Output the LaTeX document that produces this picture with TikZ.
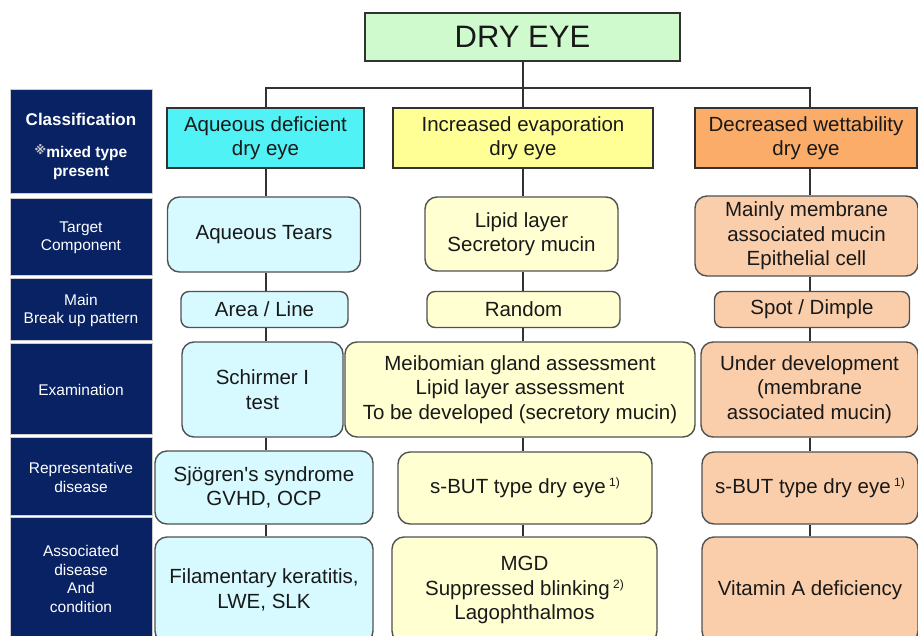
\documentclass[tikz,border=0pt]{standalone}
\usepackage{fontspec}
\setmainfont{Liberation Sans}
\newfontfamily\dejavu{DejaVu Sans}
\definecolor{navy}{RGB}{8,34,100}
\definecolor{edge}{RGB}{50,50,50}
\definecolor{greenA}{RGB}{206,250,206}
\definecolor{cyanA}{RGB}{80,242,246}
\definecolor{cyanB}{RGB}{214,250,255}
\definecolor{yellowA}{RGB}{255,255,150}
\definecolor{yellowB}{RGB}{255,255,210}
\definecolor{orangeA}{RGB}{250,172,104}
\definecolor{orangeB}{RGB}{250,206,170}
\newcommand\mainsz{\fontsize{20.5}{24.5}\selectfont}
\newcommand\labsz{\fontsize{15.5}{18.5}\selectfont}
\newcommand\supnote[1]{\,\raisebox{7pt}{\fontsize{12}{12}\selectfont #1}}
\begin{document}
\begin{tikzpicture}[x=1pt,y=-1pt,
  hdr/.style={draw=edge, line width=1.4pt, inner sep=0pt, align=center, font=\mainsz, text=black!90},
  lbox/.style={draw=edge!85, line width=1.4pt, rounded corners=12pt, inner sep=0pt, align=center, font=\mainsz, text=black!90},
  sbox/.style={lbox, rounded corners=8pt, minimum height=36pt},
  navybox/.style={fill=navy, draw=gray!40, line width=0.8pt, minimum width=142pt, inner sep=0pt},
  navytxt/.style={text=white, align=center, font=\labsz, inner sep=0pt},
  link/.style={line width=1.5pt, draw=edge}]
\useasboundingbox (0,0) rectangle (918,635);
\clip (0,0) rectangle (918,635);
\fill[white] (0,0) rectangle (918,635);

% column axes
\coordinate (c1) at (266,0);
\coordinate (c2) at (523,0);
\coordinate (c3) at (810,0);
\coordinate (bar) at (0,88);

% top
\node[hdr, fill=greenA, minimum width=315pt, minimum height=48pt, font=\fontsize{31}{31}\selectfont] (top) at (522.5,37) {DRY EYE};

% left navy panel
\node[navybox, minimum height=104pt] (n1) at (81,141) {};
\node[navytxt, font=\bfseries\fontsize{17}{20}\selectfont] (n1a) at (81,119) {Classification};
\node[navytxt, font=\bfseries\fontsize{15.5}{19}\selectfont] (n1b) at (81,162) {{\dejavu\color{gray!45}\fontsize{12}{12}\selectfont\raisebox{3pt}{※}}mixed type\\present};
\node[navybox, minimum height=77pt] (n2) at (81,236.5) {};
\node[navytxt] (n2a) at (81,238) {Target\\Component};
\node[navybox, minimum height=62pt] (n3) at (81,309) {};
\node[navytxt] (n3a) at (81,310.5) {Main\\Break up pattern};
\node[navybox, minimum height=91pt] (n4) at (81,388.5) {};
\node[navytxt] (n4a) at (81,390) {Examination};
\node[navybox, minimum height=78pt] (n5) at (81,476) {};
\node[navytxt] (n5a) at (81,477.5) {Representative\\disease};
\node[navybox, minimum height=123pt] (n6) at (81,578.5) {};
\node[navytxt] (n6a) at (81,579) {Associated\\disease\\And\\condition};

% headers
\node[hdr, fill=cyanA, minimum width=197pt, minimum height=60pt] (h1) at (265.5,138) {Aqueous deficient\\dry eye};
\node[hdr, fill=yellowA, minimum width=260pt, minimum height=60pt] (h2) at (523,138) {Increased evaporation\\dry eye};
\node[hdr, fill=orangeA, minimum width=222pt, minimum height=60pt] (h3) at (806,138) {Decreased wettability\\dry eye};

% target component
\node[lbox, fill=cyanB, minimum width=193pt, minimum height=75pt] (t1) at (264,234.5) {Aqueous Tears};
\node[lbox, fill=yellowB, minimum width=193pt, minimum height=74pt] (t2) at (521.5,234) {Lipid layer\\Secretory mucin};
\node[lbox, fill=orangeB, minimum width=223pt, minimum height=80pt] (t3) at (806.5,236) {Mainly membrane\\associated mucin\\Epithelial cell};

% break up pattern
\node[sbox, fill=cyanB, minimum width=167pt] (b1) at (264.5,309.5) {Area / Line};
\node[sbox, fill=yellowB, minimum width=193pt] (b2) at (523.5,309.5) {Random};
\node[sbox, fill=orangeB, minimum width=195pt] (b3) at (812,309.5) {Spot / Dimple};

% examination
\node[lbox, fill=cyanB, minimum width=161pt, minimum height=95pt] (e1) at (262.5,389.5) {Schirmer I\\test};
\node[lbox, fill=yellowB, minimum width=350pt, minimum height=95pt] (e2) at (520,389.5) {Meibomian gland assessment\\Lipid layer assessment\\To be developed (secretory mucin)};
\node[lbox, fill=orangeB, minimum width=217pt, minimum height=95pt] (e3) at (809.5,389.5) {Under development\\(membrane\\associated mucin)};

% representative disease
\node[lbox, fill=cyanB, minimum width=218pt, minimum height=73pt] (r1) at (264,487.5) {Sj\"ogren\textquotesingle s syndrome\\GVHD, OCP};
\node[lbox, fill=yellowB, minimum width=254pt, minimum height=72pt] (r2) at (525,488) {s-BUT type dry eye\supnote{1)}};
\node[lbox, fill=orangeB, minimum width=216pt, minimum height=72pt] (r3) at (810,488) {s-BUT type dry eye\supnote{1)}};

% associated disease
\node[lbox, fill=cyanB, minimum width=218pt, minimum height=106pt] (a1) at (264,590) {Filamentary keratitis,\\LWE, SLK};
\node[lbox, fill=yellowB, minimum width=265pt, minimum height=106pt] (a2) at (524.5,590) {MGD\\Suppressed blinking\supnote{2)}\\Lagophthalmos};
\node[lbox, fill=orangeB, minimum width=216pt, minimum height=106pt] (a3) at (810,590) {Vitamin A deficiency};

% connectors
\draw[link] (top.south -| c2) -- (c2 |- bar);
\draw[link] (h1.north -| c1) -- (c1 |- bar) -- (c3 |- bar) -- (h3.north -| c3);
\draw[link] (h2.north -| c2) -- (c2 |- bar);
\foreach \a/\b/\c in {h1/t1/c1, t1/b1/c1, b1/e1/c1, e1/r1/c1, r1/a1/c1,
                      h2/t2/c2, t2/b2/c2, b2/e2/c2, e2/r2/c2, r2/a2/c2,
                      h3/t3/c3, t3/b3/c3, b3/e3/c3, e3/r3/c3, r3/a3/c3}
  \draw[link] (\a.south -| \c) -- (\b.north -| \c);
\end{tikzpicture}
\end{document}
